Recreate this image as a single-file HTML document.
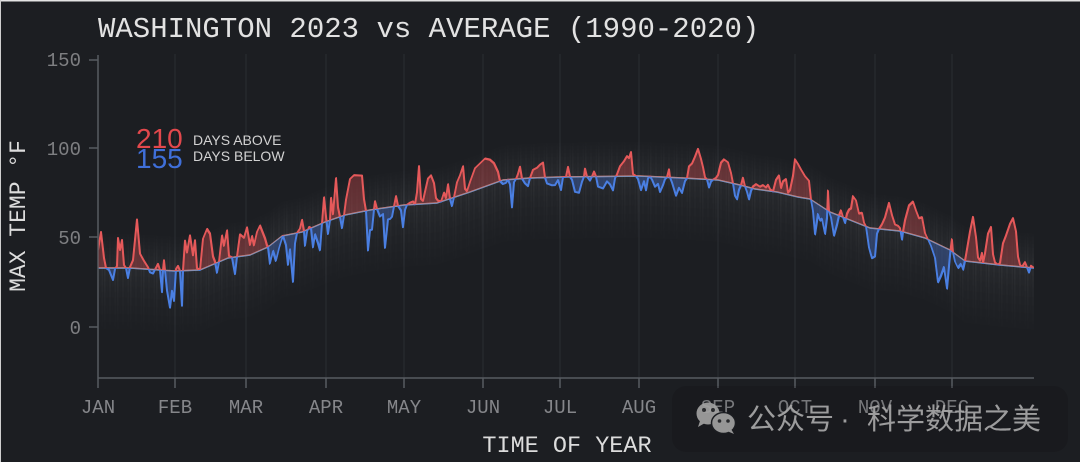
<!DOCTYPE html>
<html><head><meta charset="utf-8">
<style>
html,body{margin:0;padding:0;background:#1c1e22;}
body{width:1080px;height:462px;overflow:hidden;position:relative;}
svg{position:absolute;left:0;top:0;display:block;}
.mono{font-family:"Liberation Mono","DejaVu Sans Mono",monospace;}
.sans{font-family:"Liberation Sans","DejaVu Sans",sans-serif;}
</style></head>
<body>
<svg width="1080" height="462" viewBox="0 0 1080 462" xmlns="http://www.w3.org/2000/svg" xmlns:xlink="http://www.w3.org/1999/xlink">
<defs>
  <filter id="bl" x="-5%" y="-50%" width="110%" height="200%"><feGaussianBlur stdDeviation="3"/></filter>
  <linearGradient id="hg" x1="0" y1="0" x2="0" y2="1">
    <stop offset="0" stop-color="#fff" stop-opacity="0"/>
    <stop offset="0.35" stop-color="#fff" stop-opacity="1"/>
    <stop offset="0.6" stop-color="#fff" stop-opacity="0.5"/>
    <stop offset="1" stop-color="#fff" stop-opacity="0"/>
  </linearGradient>
  <pattern id="streak" patternUnits="userSpaceOnUse" x="0" y="0" width="13" height="20">
    <rect x="0" y="0" width="1.6" height="20" fill="#fff" opacity="0.9"/>
    <rect x="2.6" y="0" width="1" height="20" fill="#fff" opacity="0.35"/>
    <rect x="5" y="0" width="2" height="20" fill="#fff" opacity="0.6"/>
    <rect x="8.4" y="0" width="1" height="20" fill="#fff" opacity="0.3"/>
    <rect x="10.5" y="0" width="1.5" height="20" fill="#fff" opacity="0.7"/>
  </pattern>
  <mask id="hmask" maskUnits="userSpaceOnUse" x="80" y="-80" width="980" height="200">
    <rect x="90" y="-38" width="960" height="108" fill="url(#hg)"/>
  </mask>
  <clipPath id="up"><rect x="80" y="-400" width="980" height="400"/></clipPath>
  <clipPath id="dn"><rect x="80" y="0" width="980" height="400"/></clipPath>

  <path id="aline" d="M98,-18 L101,-36 L104,-10 L106,0 L109,2 L113,12 L115,1 L117,-2 L118,-30 L120,-18 L122,-28 L124,-3 L126,0 L128,10 L130,-1 L133,-8 L137,-49 L140,-15 L144,-8 L148,-2 L150,3 L153,4 L156,-2 L158,-6 L160,0 L162,22 L163,0 L164,-10 L165,0 L167,20 L170,37 L172,20 L174,30 L176,-2 L178,-5 L180,0 L182,35 L183,0 L185,-30 L187,-18 L190,-35 L193,-15 L195,-30 L197,-2 L200,0 L203,-30 L207,-38 L210,-32 L213,-8 L215,-2 L217,10 L219,0 L222,-25 L224,-14 L227,-28 L229,-2 L232,0 L235,17 L237,0 L240,-22 L244,-18 L247,-28 L250,-10 L252,-18 L254,-8 L257,-20 L260,-25 L265,-10 L267,-2 L268,0 L270,18 L273,8 L276,20 L279,10 L281,5 L283,0 L286,10 L288,30 L290,15 L293,48 L295,10 L297,0 L300,-4 L302,-12 L304,0 L305,15 L307,2 L309,-2 L311,0 L313,20 L315,8 L318,18 L320,26 L322,0 L324,-25 L326,-5 L328,13 L330,0 L331,-22 L333,-5 L336,-40 L338,-10 L340,0 L342,12 L344,0 L346,-15 L350,-35 L354,-38 L358,-37 L362,-36 L364,-12 L366,0 L368,40 L370,20 L372,20 L374,0 L375,-8 L377,0 L380,8 L383,6 L385,40 L388,12 L390,12 L392,10 L394,0 L396,-10 L398,0 L401,5 L403,22 L405,5 L407,0 L410,-2 L413,-3 L415,0 L417,-12 L419,-38 L421,-5 L423,-3 L425,-12 L428,-25 L431,-28 L434,-20 L436,-5 L438,-2 L441,0 L444,-8 L446,-2 L448,-15 L450,0 L452,8 L454,0 L457,-14 L460,-20 L463,-28 L465,-5 L467,-2 L470,-10 L475,-22 L480,-25 L485,-28 L490,-25 L494,-20 L498,-10 L500,0 L503,4 L506,3 L508,0 L510,5 L512,28 L514,3 L516,0 L518,-5 L520,-12 L522,0 L525,5 L528,8 L530,0 L533,-8 L537,-10 L540,-13 L543,-15 L545,0 L547,6 L552,8 L555,8 L558,3 L561,13 L563,0 L566,0 L568,-10 L570,0 L572,3 L575,15 L579,16 L582,5 L584,0 L585,-8 L587,0 L590,4 L592,0 L594,-5 L596,0 L598,10 L603,12 L607,5 L610,8 L613,14 L615,2 L617,-2 L620,-10 L624,-15 L627,-20 L629,-18 L631,-24 L633,-2 L636,0 L638,3 L641,14 L644,5 L646,14 L648,2 L650,0 L652,3 L655,10 L658,7 L660,15 L663,8 L665,2 L667,0 L669,-8 L670,0 L672,5 L676,18 L679,10 L682,15 L685,3 L687,0 L689,-12 L692,-15 L695,-22 L698,-30 L701,-20 L703,-12 L705,-2 L707,0 L709,8 L711,2 L713,0 L716,-2 L718,-5 L721,-18 L724,-22 L728,-20 L731,-10 L733,0 L735,12 L737,15 L739,5 L741,0 L743,-8 L745,0 L747,5 L749,12 L751,3 L753,-2 L756,-5 L760,-3 L763,-5 L766,-3 L768,-6 L770,-2 L773,0 L776,-12 L779,-17 L781,-5 L783,-12 L786,-15 L788,-2 L790,-5 L793,-20 L795,-37 L798,-33 L801,-28 L805,-22 L809,-18 L811,0 L813,10 L815,32 L818,10 L820,15 L822,12 L825,25 L827,8 L828,-20 L829,0 L831,5 L834,22 L837,10 L839,0 L841,-6 L843,0 L845,5 L847,-5 L849,-10 L851,-12 L853,-25 L856,-22 L859,-10 L862,-12 L864,-3 L866,0 L869,20 L872,30 L875,28 L877,5 L879,0 L882,-5 L885,-12 L889,-27 L892,-15 L895,-6 L898,-5 L900,-3 L902,8 L903,0 L905,-12 L909,-28 L913,-33 L916,-25 L919,-18 L922,-20 L925,-5 L928,0 L931,5 L935,15 L938,38 L941,30 L944,20 L947,40 L950,5 L952,-12 L953,0 L955,8 L958,12 L961,6 L963,10 L965,0 L967,-12 L970,-30 L973,-45 L976,-25 L978,-5 L980,-2 L982,-10 L983,0 L985,-10 L988,-30 L991,-37 L993,-10 L995,-2 L998,0 L1000,-2 L1003,-22 L1006,-30 L1010,-42 L1013,-48 L1016,-35 L1018,-10 L1020,-2 L1022,0 L1025,-5 L1027,0 L1029,5 L1031,-2 L1034,0"/>

  <path id="apoly" d="M98,0 L98,-18 L101,-36 L104,-10 L106,0 L109,2 L113,12 L115,1 L117,-2 L118,-30 L120,-18 L122,-28 L124,-3 L126,0 L128,10 L130,-1 L133,-8 L137,-49 L140,-15 L144,-8 L148,-2 L150,3 L153,4 L156,-2 L158,-6 L160,0 L162,22 L163,0 L164,-10 L165,0 L167,20 L170,37 L172,20 L174,30 L176,-2 L178,-5 L180,0 L182,35 L183,0 L185,-30 L187,-18 L190,-35 L193,-15 L195,-30 L197,-2 L200,0 L203,-30 L207,-38 L210,-32 L213,-8 L215,-2 L217,10 L219,0 L222,-25 L224,-14 L227,-28 L229,-2 L232,0 L235,17 L237,0 L240,-22 L244,-18 L247,-28 L250,-10 L252,-18 L254,-8 L257,-20 L260,-25 L265,-10 L267,-2 L268,0 L270,18 L273,8 L276,20 L279,10 L281,5 L283,0 L286,10 L288,30 L290,15 L293,48 L295,10 L297,0 L300,-4 L302,-12 L304,0 L305,15 L307,2 L309,-2 L311,0 L313,20 L315,8 L318,18 L320,26 L322,0 L324,-25 L326,-5 L328,13 L330,0 L331,-22 L333,-5 L336,-40 L338,-10 L340,0 L342,12 L344,0 L346,-15 L350,-35 L354,-38 L358,-37 L362,-36 L364,-12 L366,0 L368,40 L370,20 L372,20 L374,0 L375,-8 L377,0 L380,8 L383,6 L385,40 L388,12 L390,12 L392,10 L394,0 L396,-10 L398,0 L401,5 L403,22 L405,5 L407,0 L410,-2 L413,-3 L415,0 L417,-12 L419,-38 L421,-5 L423,-3 L425,-12 L428,-25 L431,-28 L434,-20 L436,-5 L438,-2 L441,0 L444,-8 L446,-2 L448,-15 L450,0 L452,8 L454,0 L457,-14 L460,-20 L463,-28 L465,-5 L467,-2 L470,-10 L475,-22 L480,-25 L485,-28 L490,-25 L494,-20 L498,-10 L500,0 L503,4 L506,3 L508,0 L510,5 L512,28 L514,3 L516,0 L518,-5 L520,-12 L522,0 L525,5 L528,8 L530,0 L533,-8 L537,-10 L540,-13 L543,-15 L545,0 L547,6 L552,8 L555,8 L558,3 L561,13 L563,0 L566,0 L568,-10 L570,0 L572,3 L575,15 L579,16 L582,5 L584,0 L585,-8 L587,0 L590,4 L592,0 L594,-5 L596,0 L598,10 L603,12 L607,5 L610,8 L613,14 L615,2 L617,-2 L620,-10 L624,-15 L627,-20 L629,-18 L631,-24 L633,-2 L636,0 L638,3 L641,14 L644,5 L646,14 L648,2 L650,0 L652,3 L655,10 L658,7 L660,15 L663,8 L665,2 L667,0 L669,-8 L670,0 L672,5 L676,18 L679,10 L682,15 L685,3 L687,0 L689,-12 L692,-15 L695,-22 L698,-30 L701,-20 L703,-12 L705,-2 L707,0 L709,8 L711,2 L713,0 L716,-2 L718,-5 L721,-18 L724,-22 L728,-20 L731,-10 L733,0 L735,12 L737,15 L739,5 L741,0 L743,-8 L745,0 L747,5 L749,12 L751,3 L753,-2 L756,-5 L760,-3 L763,-5 L766,-3 L768,-6 L770,-2 L773,0 L776,-12 L779,-17 L781,-5 L783,-12 L786,-15 L788,-2 L790,-5 L793,-20 L795,-37 L798,-33 L801,-28 L805,-22 L809,-18 L811,0 L813,10 L815,32 L818,10 L820,15 L822,12 L825,25 L827,8 L828,-20 L829,0 L831,5 L834,22 L837,10 L839,0 L841,-6 L843,0 L845,5 L847,-5 L849,-10 L851,-12 L853,-25 L856,-22 L859,-10 L862,-12 L864,-3 L866,0 L869,20 L872,30 L875,28 L877,5 L879,0 L882,-5 L885,-12 L889,-27 L892,-15 L895,-6 L898,-5 L900,-3 L902,8 L903,0 L905,-12 L909,-28 L913,-33 L916,-25 L919,-18 L922,-20 L925,-5 L928,0 L931,5 L935,15 L938,38 L941,30 L944,20 L947,40 L950,5 L952,-12 L953,0 L955,8 L958,12 L961,6 L963,10 L965,0 L967,-12 L970,-30 L973,-45 L976,-25 L978,-5 L980,-2 L982,-10 L983,0 L985,-10 L988,-30 L991,-37 L993,-10 L995,-2 L998,0 L1000,-2 L1003,-22 L1006,-30 L1010,-42 L1013,-48 L1016,-35 L1018,-10 L1020,-2 L1022,0 L1025,-5 L1027,0 L1029,5 L1031,-2 L1034,0 Z"/>

  <g id="seg">
    <rect x="98" y="-38" width="936" height="108" fill="#fff" opacity="0.045" mask="url(#hmask)"/>
    <rect x="98" y="-38" width="936" height="108" fill="url(#streak)" opacity="0.045" mask="url(#hmask)"/>
    <line x1="80" y1="0" x2="1060" y2="0" stroke="#b4b4b4" stroke-width="5" opacity="0.18" filter="url(#bl)"/>
    <g clip-path="url(#up)">
      <use href="#apoly" xlink:href="#apoly" fill="rgba(230,80,82,0.33)" stroke="#e5595a" stroke-width="1.4" stroke-linejoin="round"/>
    </g>
    <g clip-path="url(#dn)">
      <use href="#apoly" xlink:href="#apoly" fill="rgba(72,122,230,0.32)" stroke="#4a7fe2" stroke-width="1.4" stroke-linejoin="round"/>
    </g>
    <line x1="80" y1="0" x2="1060" y2="0" stroke="#a8a8a8" stroke-width="1.6" opacity="0.55"/>
    <g clip-path="url(#up)">
      <use href="#aline" xlink:href="#aline" fill="none" stroke="#e5595a" stroke-width="2" stroke-linejoin="round"/>
    </g>
    <g clip-path="url(#dn)">
      <use href="#aline" xlink:href="#aline" fill="none" stroke="#4a7fe2" stroke-width="2" stroke-linejoin="round"/>
    </g>
  </g>

  <clipPath id="s1"><rect x="98" y="-600" width="32" height="1200"/></clipPath>
  <clipPath id="s2"><rect x="130" y="-600" width="45" height="1200"/></clipPath>
  <clipPath id="s3"><rect x="175" y="-600" width="25" height="1200"/></clipPath>
  <clipPath id="s4"><rect x="200" y="-600" width="28" height="1200"/></clipPath>
  <clipPath id="s5"><rect x="228" y="-600" width="22" height="1200"/></clipPath>
  <clipPath id="s6"><rect x="250" y="-600" width="18" height="1200"/></clipPath>
  <clipPath id="s7"><rect x="268" y="-600" width="14" height="1200"/></clipPath>
  <clipPath id="s8"><rect x="282" y="-600" width="20" height="1200"/></clipPath>
  <clipPath id="s9"><rect x="302" y="-600" width="23" height="1200"/></clipPath>
  <clipPath id="s10"><rect x="325" y="-600" width="20" height="1200"/></clipPath>
  <clipPath id="s11"><rect x="345" y="-600" width="25" height="1200"/></clipPath>
  <clipPath id="s12"><rect x="370" y="-600" width="34" height="1200"/></clipPath>
  <clipPath id="s13"><rect x="404" y="-600" width="33" height="1200"/></clipPath>
  <clipPath id="s14"><rect x="437" y="-600" width="33" height="1200"/></clipPath>
  <clipPath id="s15"><rect x="470" y="-600" width="33" height="1200"/></clipPath>
  <clipPath id="s16"><rect x="503" y="-600" width="27" height="1200"/></clipPath>
  <clipPath id="s17"><rect x="530" y="-600" width="30" height="1200"/></clipPath>
  <clipPath id="s18"><rect x="560" y="-600" width="79" height="1200"/></clipPath>
  <clipPath id="s19"><rect x="639" y="-600" width="44" height="1200"/></clipPath>
  <clipPath id="s20"><rect x="683" y="-600" width="35" height="1200"/></clipPath>
  <clipPath id="s21"><rect x="718" y="-600" width="22" height="1200"/></clipPath>
  <clipPath id="s22"><rect x="740" y="-600" width="15" height="1200"/></clipPath>
  <clipPath id="s23"><rect x="755" y="-600" width="22" height="1200"/></clipPath>
  <clipPath id="s24"><rect x="777" y="-600" width="21" height="1200"/></clipPath>
  <clipPath id="s25"><rect x="798" y="-600" width="12" height="1200"/></clipPath>
  <clipPath id="s26"><rect x="810" y="-600" width="20" height="1200"/></clipPath>
  <clipPath id="s27"><rect x="830" y="-600" width="40" height="1200"/></clipPath>
  <clipPath id="s28"><rect x="870" y="-600" width="30" height="1200"/></clipPath>
  <clipPath id="s29"><rect x="900" y="-600" width="25" height="1200"/></clipPath>
  <clipPath id="s30"><rect x="925" y="-600" width="25" height="1200"/></clipPath>
  <clipPath id="s31"><rect x="950" y="-600" width="15" height="1200"/></clipPath>
  <clipPath id="s32"><rect x="965" y="-600" width="35" height="1200"/></clipPath>
  <clipPath id="s33"><rect x="1000" y="-600" width="34" height="1200"/></clipPath>
</defs>

<rect width="1080" height="462" fill="#1c1e22"/>
<rect x="0" y="0" width="1080" height="1.5" fill="#e4e4e4"/>
<rect x="0" y="0" width="1" height="462" fill="#cfcfcf"/>

<!-- gridlines -->
<g stroke="#2a2d32" stroke-width="1">
  <line x1="175" y1="54" x2="175" y2="378"/>
  <line x1="246" y1="54" x2="246" y2="378"/>
  <line x1="326" y1="54" x2="326" y2="378"/>
  <line x1="404" y1="54" x2="404" y2="378"/>
  <line x1="483" y1="54" x2="483" y2="378"/>
  <line x1="560" y1="54" x2="560" y2="378"/>
  <line x1="639" y1="54" x2="639" y2="378"/>
  <line x1="718" y1="54" x2="718" y2="378"/>
  <line x1="795" y1="54" x2="795" y2="378"/>
  <line x1="875" y1="54" x2="875" y2="378"/>
  <line x1="952" y1="54" x2="952" y2="378"/>
</g>

<!-- series, piecewise skewed along average curve -->
<g>
  <g transform="matrix(1,0,0,1,0,268)" clip-path="url(#s1)"><use href="#seg" xlink:href="#seg"/></g>
  <g transform="matrix(1,0.066667,0,1,0,259.333)" clip-path="url(#s2)"><use href="#seg" xlink:href="#seg"/></g>
  <g transform="matrix(1,-0.04,0,1,0,278)" clip-path="url(#s3)"><use href="#seg" xlink:href="#seg"/></g>
  <g transform="matrix(1,-0.428571,0,1,0,355.714)" clip-path="url(#s4)"><use href="#seg" xlink:href="#seg"/></g>
  <g transform="matrix(1,-0.136364,0,1,0,289.091)" clip-path="url(#s5)"><use href="#seg" xlink:href="#seg"/></g>
  <g transform="matrix(1,-0.444444,0,1,0,366.111)" clip-path="url(#s6)"><use href="#seg" xlink:href="#seg"/></g>
  <g transform="matrix(1,-0.785714,0,1,0,457.571)" clip-path="url(#s7)"><use href="#seg" xlink:href="#seg"/></g>
  <g transform="matrix(1,-0.2,0,1,0,292.4)" clip-path="url(#s8)"><use href="#seg" xlink:href="#seg"/></g>
  <g transform="matrix(1,-0.434783,0,1,0,363.304)" clip-path="url(#s9)"><use href="#seg" xlink:href="#seg"/></g>
  <g transform="matrix(1,-0.35,0,1,0,335.75)" clip-path="url(#s10)"><use href="#seg" xlink:href="#seg"/></g>
  <g transform="matrix(1,-0.2,0,1,0,284)" clip-path="url(#s11)"><use href="#seg" xlink:href="#seg"/></g>
  <g transform="matrix(1,-0.147059,0,1,0,264.412)" clip-path="url(#s12)"><use href="#seg" xlink:href="#seg"/></g>
  <g transform="matrix(1,-0.060606,0,1,0,229.485)" clip-path="url(#s13)"><use href="#seg" xlink:href="#seg"/></g>
  <g transform="matrix(1,-0.333333,0,1,0,348.667)" clip-path="url(#s14)"><use href="#seg" xlink:href="#seg"/></g>
  <g transform="matrix(1,-0.363636,0,1,0,362.909)" clip-path="url(#s15)"><use href="#seg" xlink:href="#seg"/></g>
  <g transform="matrix(1,-0.074074,0,1,0,217.259)" clip-path="url(#s16)"><use href="#seg" xlink:href="#seg"/></g>
  <g transform="matrix(1,-0.033333,0,1,0,195.667)" clip-path="url(#s17)"><use href="#seg" xlink:href="#seg"/></g>
  <g transform="matrix(1,-0.012658,0,1,0,184.089)" clip-path="url(#s18)"><use href="#seg" xlink:href="#seg"/></g>
  <g transform="matrix(1,0.045455,0,1,0,146.955)" clip-path="url(#s19)"><use href="#seg" xlink:href="#seg"/></g>
  <g transform="matrix(1,0.057143,0,1,0,138.971)" clip-path="url(#s20)"><use href="#seg" xlink:href="#seg"/></g>
  <g transform="matrix(1,0.227273,0,1,0,16.818)" clip-path="url(#s21)"><use href="#seg" xlink:href="#seg"/></g>
  <g transform="matrix(1,0.266667,0,1,0,-12.333)" clip-path="url(#s22)"><use href="#seg" xlink:href="#seg"/></g>
  <g transform="matrix(1,0.136364,0,1,0,86.045)" clip-path="url(#s23)"><use href="#seg" xlink:href="#seg"/></g>
  <g transform="matrix(1,0.238095,0,1,0,7)" clip-path="url(#s24)"><use href="#seg" xlink:href="#seg"/></g>
  <g transform="matrix(1,0.166667,0,1,0,64)" clip-path="url(#s25)"><use href="#seg" xlink:href="#seg"/></g>
  <g transform="matrix(1,0.65,0,1,0,-327.5)" clip-path="url(#s26)"><use href="#seg" xlink:href="#seg"/></g>
  <g transform="matrix(1,0.4,0,1,0,-120)" clip-path="url(#s27)"><use href="#seg" xlink:href="#seg"/></g>
  <g transform="matrix(1,0.1,0,1,0,141)" clip-path="url(#s28)"><use href="#seg" xlink:href="#seg"/></g>
  <g transform="matrix(1,0.28,0,1,0,-21)" clip-path="url(#s29)"><use href="#seg" xlink:href="#seg"/></g>
  <g transform="matrix(1,0.48,0,1,0,-206)" clip-path="url(#s30)"><use href="#seg" xlink:href="#seg"/></g>
  <g transform="matrix(1,0.733333,0,1,0,-446.667)" clip-path="url(#s31)"><use href="#seg" xlink:href="#seg"/></g>
  <g transform="matrix(1,0.114286,0,1,0,150.714)" clip-path="url(#s32)"><use href="#seg" xlink:href="#seg"/></g>
  <g transform="matrix(1,0.088235,0,1,0,176.765)" clip-path="url(#s33)"><use href="#seg" xlink:href="#seg"/></g>
</g>

<!-- axes -->
<g stroke="#575b61" stroke-width="1.5" fill="none">
  <line x1="98" y1="55" x2="98" y2="378"/>
  <line x1="98" y1="378" x2="1034" y2="378"/>
  <line x1="89" y1="60" x2="98" y2="60"/>
  <line x1="89" y1="148" x2="98" y2="148"/>
  <line x1="89" y1="237" x2="98" y2="237"/>
  <line x1="89" y1="327" x2="98" y2="327"/>
  <line x1="98" y1="378" x2="98" y2="388"/>
  <line x1="175" y1="378" x2="175" y2="388"/>
  <line x1="246" y1="378" x2="246" y2="388"/>
  <line x1="326" y1="378" x2="326" y2="388"/>
  <line x1="404" y1="378" x2="404" y2="388"/>
  <line x1="483" y1="378" x2="483" y2="388"/>
  <line x1="560" y1="378" x2="560" y2="388"/>
  <line x1="639" y1="378" x2="639" y2="388"/>
  <line x1="718" y1="378" x2="718" y2="388"/>
  <line x1="795" y1="378" x2="795" y2="388"/>
  <line x1="875" y1="378" x2="875" y2="388"/>
  <line x1="952" y1="378" x2="952" y2="388"/>
</g>

<g class="mono" font-size="19" fill="#7e7f82" text-anchor="end">
  <text x="81" y="66">150</text>
  <text x="81" y="155">100</text>
  <text x="81" y="244">50</text>
  <text x="81" y="334">0</text>
</g>
<g class="mono" font-size="19" fill="#85868a" text-anchor="middle">
  <text x="98" y="413">JAN</text>
  <text x="175" y="413">FEB</text>
  <text x="246" y="413">MAR</text>
  <text x="326" y="413">APR</text>
  <text x="404" y="413">MAY</text>
  <text x="483" y="413">JUN</text>
  <text x="560" y="413">JUL</text>
  <text x="639" y="413">AUG</text>
  <text x="718" y="413">SEP</text>
  <text x="795" y="413">OCT</text>
  <text x="875" y="413">NOV</text>
  <text x="952" y="413">DEC</text>
</g>

<text class="mono" x="98" y="37" font-size="29" fill="#e2e2e2">WASHINGTON 2023 vs AVERAGE (1990-2020)</text>
<text class="mono" x="567" y="452" font-size="23.5" fill="#dcdcdc" text-anchor="middle">TIME OF YEAR</text>
<text class="mono" font-size="23" fill="#dcdcdc" text-anchor="middle" transform="translate(25,216) rotate(-90)">MAX TEMP °F</text>

<!-- legend -->
<text class="sans" x="136" y="148" font-size="28" fill="#e2484c">210</text>
<text class="sans" x="136" y="168" font-size="28" fill="#3f6fd9">155</text>
<text class="sans" x="193" y="145" font-size="14" fill="#d2d2d2">DAYS ABOVE</text>
<text class="sans" x="193" y="161" font-size="14" fill="#d2d2d2">DAYS BELOW</text>

<!-- watermark -->
<rect x="672" y="386" width="396" height="66" rx="14" fill="#000" opacity="0.10"/>
<g opacity="0.9">
  <ellipse cx="708" cy="413.5" rx="11.5" ry="11" fill="#a4a4a4"/>
  <path d="M700,421 L698,427 L705,423 Z" fill="#a4a4a4"/>
  <circle cx="704" cy="410" r="2" fill="#2a2b2e"/>
  <circle cx="713" cy="410" r="2" fill="#2a2b2e"/>
  <ellipse cx="723.5" cy="423" rx="12" ry="10.5" fill="#a4a4a4" stroke="#1c1e22" stroke-width="1.5"/>
  <path d="M731,429 L734,434 L727,431 Z" fill="#a4a4a4"/>
  <circle cx="719.5" cy="421" r="1.8" fill="#2a2b2e"/>
  <circle cx="728" cy="421" r="1.8" fill="#2a2b2e"/>
</g>
<g font-family="'Liberation Sans','Noto Sans CJK SC','WenQuanYi Zen Hei',sans-serif" font-size="29" fill="#a8a8a8" opacity="0.92">
  <text x="747" y="429">公众号</text>
  <text x="845" y="429" text-anchor="middle">·</text>
  <text x="867" y="429">科学数据之美</text>
</g>
</svg>
</body></html>
